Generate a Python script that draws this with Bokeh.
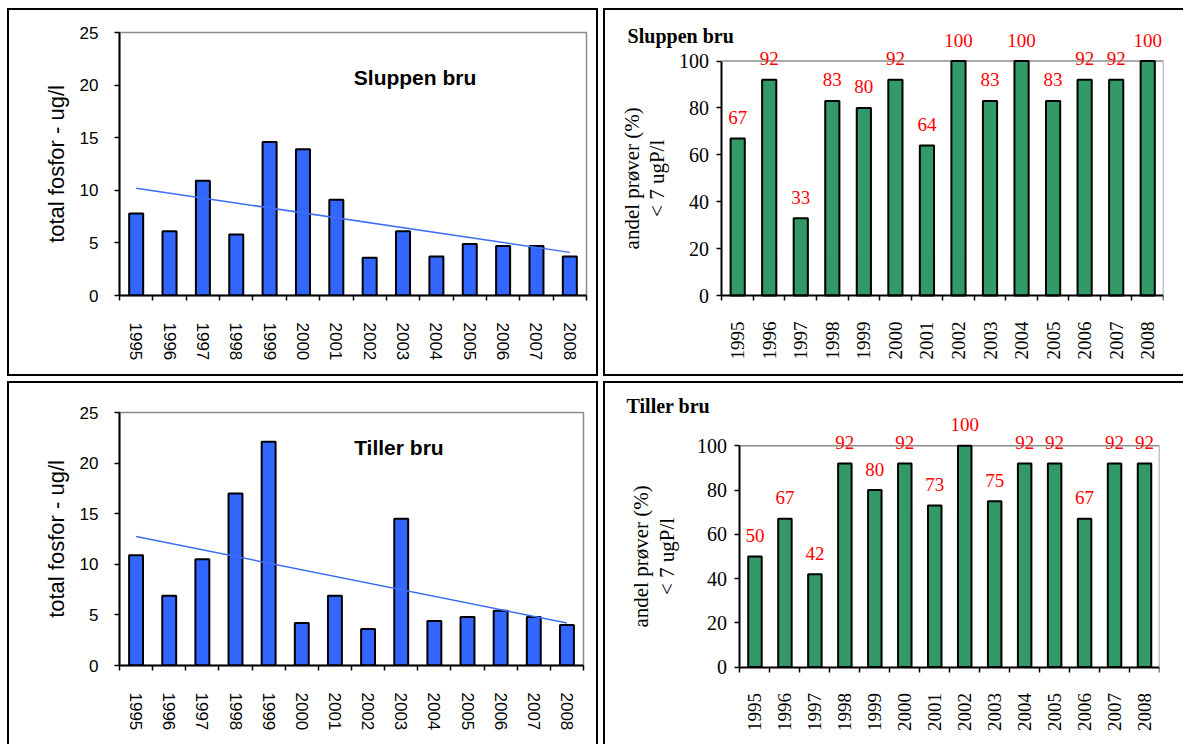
import math
from bokeh.plotting import figure
from bokeh.models import Range1d, FixedTicker, ColumnDataSource, LabelSet, Label
from bokeh.layouts import row, column
from bokeh.embed import file_html
from bokeh.resources import INLINE
from bokeh.core.properties import value

# ---------------- data ----------------
years = [1995, 1996, 1997, 1998, 1999, 2000, 2001, 2002, 2003, 2004, 2005, 2006, 2007, 2008]

sluppen_tp = [7.8, 6.1, 10.9, 5.8, 14.6, 13.9, 9.1, 3.6, 6.1, 3.7, 4.9, 4.7, 4.7, 3.7]
tiller_tp = [10.9, 6.9, 10.5, 17.0, 22.1, 4.2, 6.9, 3.6, 14.5, 4.4, 4.8, 5.4, 4.8, 4.0]

# linear trend lines (value at first and last year)
sluppen_trend = [10.2, 4.1]
tiller_trend = [12.75, 4.2]

sluppen_pct = [67, 92, 33, 83, 80, 92, 64, 100, 83, 100, 83, 92, 92, 100]
tiller_pct = [50, 67, 42, 92, 80, 92, 73, 100, 75, 92, 92, 67, 92, 92]

tp_ticks = [0, 5, 10, 15, 20, 25]
pct_ticks = [0, 20, 40, 60, 80, 100]

tp_label = "total fosfor - ug/l"
pct_label_lines = ["andel prøver (%)", "< 7 ugP/l"]

SANS = "Liberation Sans"
SERIF = "Liberation Serif"
BORDER = "2px solid black"
GRAY = "#8c8c8c"

x_lo, x_hi = years[0] - 0.5, years[-1] + 0.5
boundaries = [y - 0.5 for y in years] + [years[-1] + 0.5]


def style_common(p):
    p.xgrid.visible = False
    p.ygrid.visible = False
    p.background_fill_color = "white"
    p.border_fill_color = "white"
    for ax in (p.xaxis[0], p.yaxis[0]):
        ax.axis_line_color = "black"
        ax.axis_line_width = 2
    xa = p.xaxis[0]
    xa.ticker = FixedTicker(ticks=years, minor_ticks=boundaries)
    xa.major_tick_line_color = None
    xa.major_tick_out = 0
    xa.major_tick_in = 0
    xa.minor_tick_line_color = "black"
    xa.minor_tick_line_width = 1.5
    xa.minor_tick_out = 5
    xa.minor_tick_in = 0
    ya = p.yaxis[0]
    ya.minor_tick_line_color = None
    ya.major_tick_line_color = "black"
    ya.major_tick_line_width = 1.5
    ya.major_tick_out = 5
    ya.major_tick_in = 0


def tp_panel(name, vals, trend, w, h, mb, title_xy, css):
    p = figure(width=w, height=h, x_range=Range1d(x_lo, x_hi), y_range=Range1d(0, 25),
               output_backend="svg", toolbar_location=None, frame_align=False,
               min_border_left=mb[0], min_border_right=mb[1],
               min_border_top=mb[2], min_border_bottom=mb[3], styles=css)
    style_common(p)
    p.outline_line_color = GRAY
    p.outline_line_width = 1.5
    p.vbar(x=years, top=vals, width=0.42, fill_color="#3366FF",
           line_color="black", line_width=2)
    p.line(x=[years[0], years[-1]], y=trend, line_color="#3d6ef5", line_width=1.5)
    xa, ya = p.xaxis[0], p.yaxis[0]
    ya.ticker = FixedTicker(ticks=tp_ticks)
    for ax in (xa, ya):
        ax.major_label_text_font = SANS
        ax.major_label_text_font_size = "17px"
        ax.major_label_text_color = "black"
    xa.major_label_orientation = -math.pi / 2
    xa.major_label_standoff = 22
    ya.major_label_standoff = 16
    ya.axis_label = tp_label
    ya.axis_label_text_font = SANS
    ya.axis_label_text_font_size = "22px"
    ya.axis_label_text_font_style = "normal"
    ya.axis_label_text_color = "black"
    ya.axis_label_standoff = 8
    p.add_layout(Label(x=title_xy[0], y=title_xy[1], text=name, text_font=SANS,
                       text_font_size="21px", text_font_style="bold",
                       text_align="center", text_baseline="middle", text_color="black"))
    return p


def pct_panel(name, vals, w, h, mb, xr, yr, title_xy, ylab_x, css):
    # the frame covers the whole panel so that the titles and the value labels
    # above 100 % are not clipped; the axes are pinned at x = 1994.5 and y = 0
    p = figure(width=w, height=h, x_range=Range1d(*xr), y_range=Range1d(*yr),
               output_backend="svg", toolbar_location=None, frame_align=False,
               min_border_left=mb[0], min_border_right=mb[1],
               min_border_top=mb[2], min_border_bottom=mb[3], styles=css)
    style_common(p)
    p.outline_line_color = None
    xa, ya = p.xaxis[0], p.yaxis[0]
    xa.bounds = (x_lo, x_hi)
    ya.bounds = (pct_ticks[0], pct_ticks[-1])
    ya.fixed_location = x_lo
    xa.fixed_location = pct_ticks[0]
    # plot-area frame (top and right edges) at 100 %
    p.segment(x0=[x_lo, x_hi], y0=[pct_ticks[-1], 0], x1=[x_hi, x_hi],
              y1=[pct_ticks[-1], pct_ticks[-1]], line_color=GRAY, line_width=1.5)
    src = ColumnDataSource(dict(x=years, top=vals, lab=[str(v) for v in vals]))
    p.vbar(x="x", top="top", width=0.45, fill_color="#339966",
           line_color="black", line_width=2, source=src)
    p.add_layout(LabelSet(x="x", y="top", text="lab", source=src, y_offset=21,
                          text_align="center", text_baseline="middle",
                          text_font=value(SERIF), text_font_size="19px",
                          text_color="#FF0000"))
    ya.ticker = FixedTicker(ticks=pct_ticks)
    for ax in (xa, ya):
        ax.major_label_text_font = SERIF
        ax.major_label_text_font_size = "19px"
        ax.major_label_text_color = "black"
    ya.major_label_text_font_size = "20px"
    xa.major_label_orientation = math.pi / 2
    xa.major_label_standoff = 21
    ya.major_label_standoff = 8
    # two-line y-axis title
    mid = (pct_ticks[0] + pct_ticks[-1]) / 2
    for txt, lx in zip(pct_label_lines, ylab_x):
        p.add_layout(Label(x=lx, y=mid, text=txt, angle=math.pi / 2,
                           text_font=SERIF, text_font_size="21px",
                           text_align="center", text_baseline="middle",
                           text_color="black"))
    p.add_layout(Label(x=title_xy[0], y=title_xy[1], text=name, text_font=SERIF,
                       text_font_size="20px", text_font_style="bold",
                       text_align="left", text_baseline="middle", text_color="black"))
    return p


p1 = tp_panel("Sluppen bru", sluppen_tp, sluppen_trend, 591, 368, (110, 14, 22, 83),
              (2003.36, 20.75), {"border": BORDER})
p2 = pct_panel("Sluppen bru", sluppen_pct, 580, 368, (4, 22, 4, 2),
               (1990.936, x_hi), (-80 / 2.32, 278 / 2.32),
               (1991.51, 110.8), (1991.64, 1992.43),
               {"border-top": BORDER, "border-left": BORDER, "border-bottom": BORDER})
p3 = tp_panel("Tiller bru", tiller_tp, tiller_trend, 591, 363, (110, 17, 29, 81),
              (2002.93, 21.5),
              {"border-top": BORDER, "border-left": BORDER, "border-right": BORDER})
p4 = pct_panel("Tiller bru", tiller_pct, 580, 363, (4, 26, 4, 2),
               (1990.146, x_hi), (-77 / 2.2, 278 / 2.2),
               (1990.715, 118.2), (1991.2, 1992.06),
               {"border-top": BORDER, "border-left": BORDER})

layout = column(row(p1, p2, spacing=5), row(p3, p4, spacing=5), spacing=5,
                margin=(8, 0, 0, 7))

open("out.html", "w").write(file_html(layout, INLINE))
